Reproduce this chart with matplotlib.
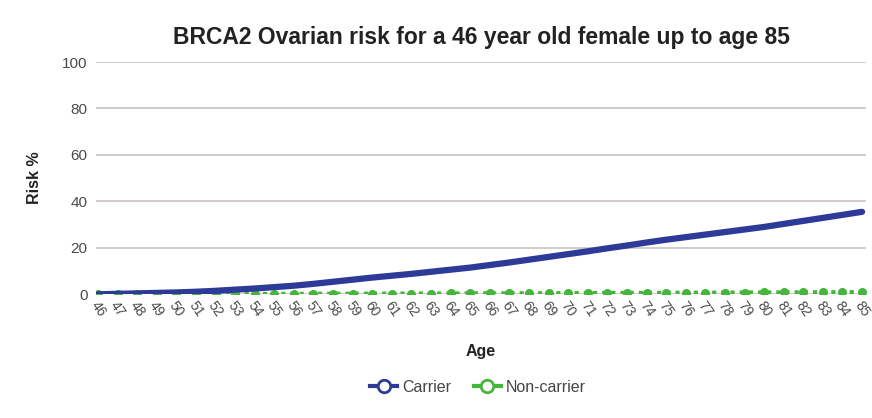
import matplotlib.pyplot as plt
from matplotlib.lines import Line2D

plt.rcParams['font.family'] = ['Liberation Sans', 'DejaVu Sans']

# Cumulative ovarian cancer risk (%) by age
ages = list(range(46, 86))
carrier = [0.0, 0.2, 0.4, 0.6, 0.8, 1.1, 1.5, 2.0, 2.5, 3.1,
           3.7, 4.5, 5.4, 6.3, 7.2, 8.0, 8.8, 9.7, 10.6, 11.5,
           12.6, 13.7, 14.9, 16.1, 17.3, 18.5, 19.8, 21.0, 22.3, 23.5,
           24.6, 25.7, 26.8, 27.9, 29.0, 30.3, 31.6, 32.9, 34.2, 35.5]
non_carrier = [0.0, 0.02, 0.04, 0.06, 0.08, 0.1, 0.12, 0.14, 0.16, 0.18,
               0.2, 0.22, 0.24, 0.26, 0.28, 0.3, 0.32, 0.34, 0.36, 0.38,
               0.4, 0.42, 0.44, 0.47, 0.5, 0.53, 0.56, 0.59, 0.62, 0.65,
               0.68, 0.71, 0.74, 0.77, 0.8, 0.83, 0.86, 0.89, 0.92, 0.95]
y_ticks = [0, 20, 40, 60, 80, 100]

blue = '#2d3a98'
green = '#45b53c'
grey_text = '#4a4a4a'

fig = plt.figure(figsize=(8.72, 4.18), dpi=100)
ax = fig.add_axes([96 / 872, 1 - 294.3 / 418, 770 / 872, 232.3 / 418])

ax.plot(ages, non_carrier, color=green, linestyle=(0, (1, 1.2)), linewidth=3,
        marker='o', markersize=5.5, zorder=3)
ax.plot(ages, carrier, color=blue, linewidth=4.5, solid_capstyle='round', zorder=4)

ax.set_xlim(45.9, 85.2)
ax.set_ylim(0, 100)
ax.set_yticks(y_ticks)
ax.set_xticks(ages)
ax.set_xticklabels([str(a) for a in ages], rotation=-55, ha='center', va='top',
                   fontsize=10, color=grey_text)
ax.tick_params(axis='y', length=0, pad=6, labelsize=11, labelcolor=grey_text)
ax.tick_params(axis='x', length=0, pad=3)

ax.grid(axis='y', color='#cfc8c4', linewidth=1.3)
ax.set_axisbelow(True)
for side in ax.spines.values():
    side.set_visible(False)

ax.set_title('BRCA2 Ovarian risk for a 46 year old female up to age 85',
             fontsize=16.5, fontweight='bold', color='#222222', pad=13)
ax.set_ylabel('Risk %', fontsize=11.5, fontweight='bold', color='#222222')
ax.yaxis.set_label_coords(-0.07, 0.5)
ax.set_xlabel('Age', fontsize=11.5, fontweight='bold', color='#222222')
ax.xaxis.set_label_coords(0.5, -0.215)

handles = [
    Line2D([], [], color=blue, linewidth=3, marker='o', markersize=9,
           markerfacecolor='white', markeredgewidth=2),
    Line2D([], [], color=green, linewidth=3, marker='o', markersize=9,
           markerfacecolor='white', markeredgewidth=2),
]
leg = fig.legend(handles, ['Carrier', 'Non-carrier'], loc='center',
                 bbox_to_anchor=(0.548, 0.074), ncol=2, frameon=False,
                 fontsize=11.5, handlelength=1.7, columnspacing=1.4,
                 handletextpad=0.3)
for t in leg.get_texts():
    t.set_color('#444444')

fig.savefig('out.png', dpi=100)
